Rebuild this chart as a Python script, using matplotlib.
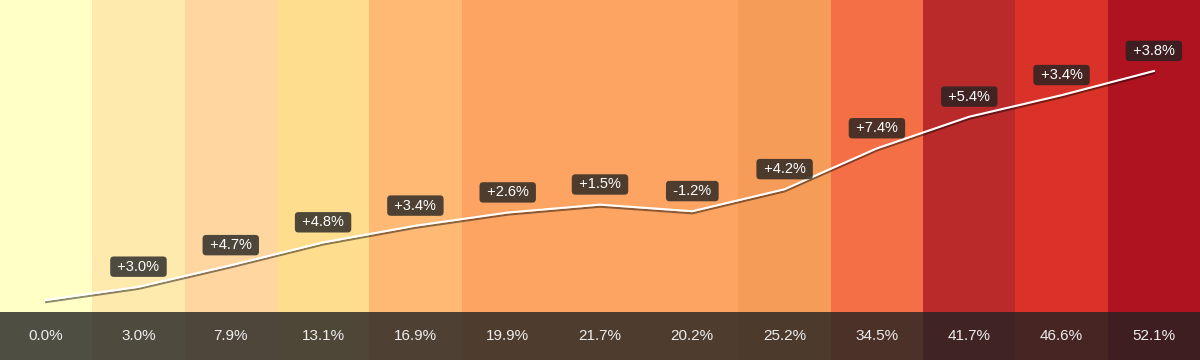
import numpy as np
import matplotlib.pyplot as plt
import matplotlib.patheffects as pe

plt.rcParams['font.family'] = ['Liberation Sans', 'DejaVu Sans']

###########################################################
# data

cumulative = [0.0, 3.0, 7.9, 13.1, 16.9, 19.9, 21.7, 20.2, 25.2, 34.5, 41.7, 46.6, 52.1]
deltas = ['', '+3.0%', '+4.7%', '+4.8%', '+3.4%', '+2.6%', '+1.5%', '-1.2%',
          '+4.2%', '+7.4%', '+5.4%', '+3.4%', '+3.8%']
band_colors = ['#FFFFC6', '#FFEAAE', '#FFD5A0', '#FFDD8E', '#FEB974', '#FDA462',
               '#FDA462', '#FDA462', '#F59C59', '#F46F45', '#BA2A2A', '#DA3228',
               '#B01320']

###########################################################
# figure

fig = plt.figure(figsize=(12, 3.6), dpi=100)
ax = fig.add_axes([0, 0, 1, 1])
n = len(cumulative)
x = np.arange(n)

ax.set_xlim(-0.5, n - 0.5)
ax.set_ylim(-13.65, 68.26)
ax.axis('off')

# coloured background columns
for i, c in enumerate(band_colors):
    ax.axvspan(i - 0.5, i + 0.5, color=c, lw=0, zorder=0)

# bottom strip
ax.axhspan(-13.65, -2.73, color='#222222', alpha=0.8, lw=0, zorder=1)

# line with shadow
ax.plot(x, cumulative, color='white', lw=1.5, zorder=3,
        path_effects=[pe.SimpleLineShadow(offset=(0, -1.5), shadow_color='black', alpha=0.45),
                      pe.Normal()])

# delta labels above points
for i in range(1, n):
    ax.annotate(' ' + deltas[i] + ' ', (x[i], cumulative[i]), xytext=(0, 14.5),
                textcoords='offset points', ha='center', va='center',
                fontsize=10.5, color='white', zorder=4,
                bbox=dict(boxstyle='round,pad=0.22,rounding_size=0.25',
                          fc='#222222', ec='none', alpha=0.8))

# cumulative labels in bottom strip
for i in range(n):
    ax.text(x[i], -8.2, f'{cumulative[i]:.1f}%', ha='center', va='center',
            fontsize=11, color='#EEEEEE', zorder=4)

fig.savefig('out.png', dpi=100)
